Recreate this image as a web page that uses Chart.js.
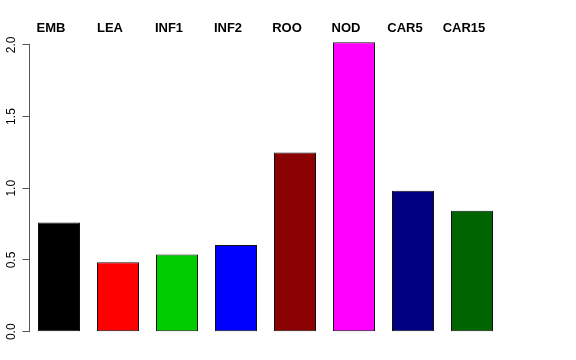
<!DOCTYPE html>
<html>
<head>
<meta charset="utf-8">
<script src="https://cdn.jsdelivr.net/npm/chart.js@4.4.1/dist/chart.umd.min.js"></script>
<style>
  html, body { margin: 0; padding: 0; background: #fff; }
  #wrap { width: 576px; height: 360px; position: relative; }
</style>
</head>
<body>
<div id="wrap"><canvas id="barChart"></canvas></div>
<script>
const categories = ["EMB", "LEA", "INF1", "INF2", "ROO", "NOD", "CAR5", "CAR15"];
const values = [0.762, 0.484, 0.539, 0.604, 1.250, 2.017, 0.983, 0.843];
const barColors = ["#000000", "#FF0000", "#00CD00", "#0000FF", "#8B0000", "#FF00FF", "#000080", "#006400"];
const yTicks = [0, 0.5, 1.0, 1.5, 2.0];

// R style: y range padded by 4% on both sides
const yMax = Math.max(...values);
const yPad = yMax * 0.04;

// axis line only between first and last tick, like R's axis()
const rAxisLine = {
    id: "rAxisLine",
    afterDraw(chart) {
        const ctx = chart.ctx;
        const y = chart.scales.y;
        const x0 = Math.round(chart.chartArea.left) - 0.5;
        ctx.save();
        ctx.strokeStyle = "#555";
        ctx.lineWidth = 1;
        ctx.beginPath();
        ctx.moveTo(x0, y.getPixelForValue(yTicks[0]));
        ctx.lineTo(x0, y.getPixelForValue(yTicks[yTicks.length - 1]));
        ctx.stroke();
        ctx.restore();
    }
};

// category names written above the plot
const topLabels = {
    id: "topLabels",
    afterDraw(chart) {
        const ctx = chart.ctx;
        const x = chart.scales.x;
        ctx.save();
        ctx.fillStyle = "#000";
        ctx.font = "bold 13px 'Liberation Sans', Arial, sans-serif";
        ctx.textAlign = "center";
        ctx.textBaseline = "middle";
        categories.forEach((c, i) => {
            ctx.fillText(c, x.getPixelForValue(i) - 8, 28);
        });
        ctx.restore();
    }
};

const ctx = document.getElementById("barChart").getContext("2d");

new Chart(ctx, {
    type: "bar",
    plugins: [rAxisLine, topLabels],
    data: {
        labels: categories,
        datasets: [
            {
                data: values,
                backgroundColor: barColors,
                borderColor: "#111",
                borderWidth: 1,
                borderSkipped: false,
                categoryPercentage: 1.0,
                barPercentage: 0.712
            }
        ]
    },
    options: {
        responsive: true,
        maintainAspectRatio: false,
        animation: false,
        layout: {
            padding: { left: 0, right: 74.5, top: 30.8, bottom: 16.7 }
        },
        plugins: {
            legend: { display: false },
            tooltip: { enabled: false }
        },
        scales: {
            x: {
                type: "category",
                display: false
            },
            y: {
                min: -yPad,
                max: yMax + yPad,
                afterBuildTicks: (scale) => {
                    scale.ticks = yTicks.map(v => ({ value: v }));
                },
                afterFit: (scale) => {
                    scale.width = 29.5;
                },
                border: { display: false },
                grid: {
                    drawOnChartArea: false,
                    drawTicks: true,
                    tickLength: 7,
                    color: "#555"
                },
                ticks: {
                    minRotation: 90,
                    maxRotation: 90,
                    crossAlign: "center",
                    padding: 2,
                    color: "#000",
                    font: { family: "'Liberation Sans', Arial, sans-serif", size: 12 },
                    callback: (v) => Number(v).toFixed(1)
                }
            }
        }
    }
});
</script>
</body>
</html>
